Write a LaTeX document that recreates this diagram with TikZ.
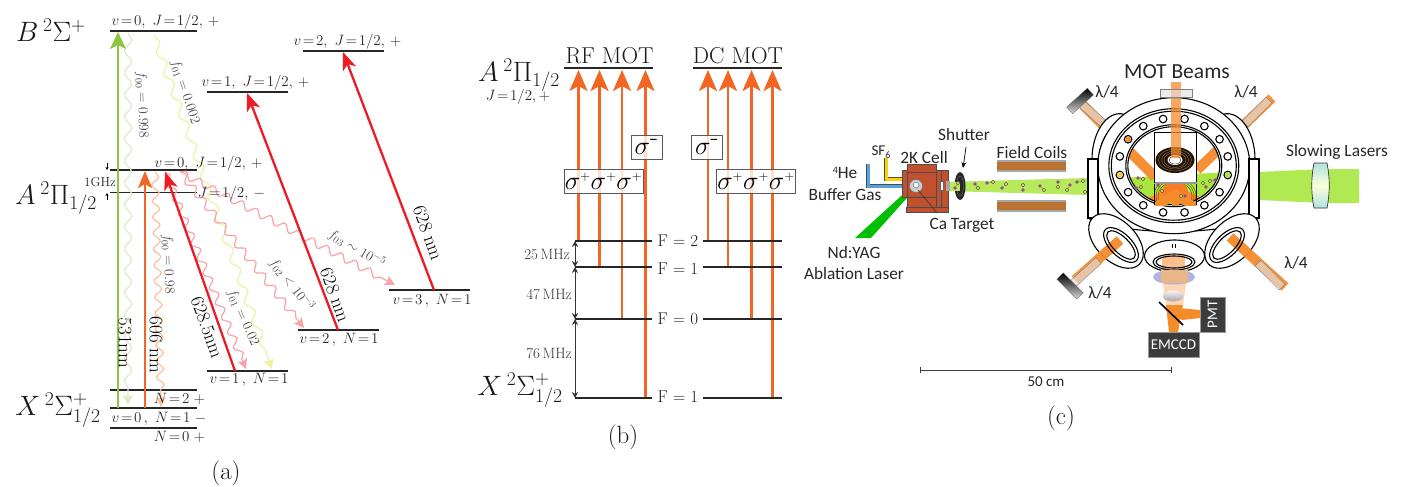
\documentclass[tikz,border=0pt]{standalone}
\usepackage{fix-cm}
\usepackage{fontspec}
\newfontfamily\calibri{Carlito}
\usetikzlibrary{arrows.meta,decorations.pathmorphing,shapes.geometric}
\definecolor{lasergreen}{HTML}{8DC63F}
\definecolor{laserorange}{HTML}{F26522}
\definecolor{laserred}{HTML}{ED1C24}
\definecolor{wavegreen}{HTML}{DDEBC8}
\definecolor{waveyellow}{HTML}{EDF1A0}
\definecolor{waveorange}{HTML}{FBBF9F}
\definecolor{wavepink}{HTML}{F9A2A7}
\definecolor{beam}{HTML}{F68B2C}
\definecolor{slower}{HTML}{A9E63F}
\definecolor{cellred}{HTML}{C1502E}
\definecolor{coilbrown}{HTML}{B87333}
\definecolor{boxdark}{HTML}{3C3C3C}
\tikzset{
  lvl/.style={line width=1.9pt,black!85},
  state/.style={font=\fontsize{15}{17}\selectfont,text=black!85,inner sep=0pt},
  term/.style={font=\fontsize{28}{30}\selectfont,text=black!90,inner sep=0pt},
  freq/.style={font=\fontsize{14}{16}\selectfont,text=black!70,inner sep=0pt},
  wavelen/.style={font=\fontsize{19}{21}\selectfont,text=black,inner sep=0pt},
  panel/.style={font=\fontsize{25}{27}\selectfont,text=black!90,inner sep=0pt},
  pump/.style={line width=2.3pt},
  redhead/.style={-{Stealth[length=18pt,width=14pt,inset=5pt]}},
  wavy/.style={line width=1.2pt,decorate,decoration={snake,segment length=#1,amplitude=3.6pt,post length=10pt}},
  wavetip/.style={-{Stealth[length=10pt,width=10pt,inset=2pt]}},
  mothead/.style={-{Stealth[length=21pt,width=18pt,inset=5pt]}},
  polbox/.style={draw=black!65,line width=.7pt,fill=white,fill opacity=.8,text opacity=1,inner sep=0pt,font=\fontsize{26}{28}\selectfont},
  gap/.style={{Stealth[length=6pt,width=6pt]}-{Stealth[length=6pt,width=6pt]},line width=.9pt,black!80},
  fstate/.style={font=\fontsize{17}{19}\selectfont,text=black!90,inner sep=0pt},
  mhz/.style={font=\fontsize{15}{17}\selectfont,text=black!80,inner sep=0pt},
  lab/.style={font=\calibri\fontsize{17.3}{19}\selectfont,text=black!85,inner sep=0pt},
  darkbox/.style={fill=boxdark,draw=black!40,line width=.4pt,text=white,inner sep=0pt,font=\calibri\fontsize{15}{17}\selectfont},
  qwp/.style={draw=black!50,fill=black!12,fill opacity=.65,minimum width=34pt,minimum height=8pt,inner sep=0pt},
  mirr/.style={top color=black,bottom color=black!15,draw=black!60,line width=.3pt,minimum width=28pt,minimum height=9pt,inner sep=0pt},
  motbeam/.style={draw=beam,line width=10pt,draw opacity=.95},
  chamber/.style={line width=1.1pt,fill=white},
  pinkdot/.style={fill=magenta!70!black,draw=black!50,line width=.3pt},
  yellowdot/.style={fill=yellow!70,draw=black!70,line width=.5pt},
}
\begin{document}
\begin{tikzpicture}[x=1pt,y=-1pt]
  \useasboundingbox (0,0) rectangle (1405,487);
  \draw
    (110,31) coordinate (b0l) (197,31) coordinate (b0r)
    (207,92) coordinate (b1l) (288,92) coordinate (b1r)
    (303,51) coordinate (b2l) (384,51) coordinate (b2r)
    (110,170) coordinate (apl) (197,170) coordinate (apr)
    (110,192.5) coordinate (aml) (197,192.5) coordinate (amr)
    (110,390) coordinate (x2l) (197,390) coordinate (x2r)
    (110,408) coordinate (x1l) (197,408) coordinate (x1r)
    (110,428) coordinate (x0l) (197,428) coordinate (x0r)
    (207,371) coordinate (v1l) (288,371) coordinate (v1r)
    (298,330) coordinate (v2l) (379,330) coordinate (v2r)
    (389,290) coordinate (v3l) (470,290) coordinate (v3r);
  \draw[lvl] (b0l) to (b0r);
  \draw[lvl] (b1l) to (b1r);
  \draw[lvl] (b2l) to (b2r);
  \draw[lvl] (apl) to (apr);
  \draw[lvl] (aml) to (amr);
  \draw[lvl] (x2l) to (x2r);
  \draw[lvl] (x1l) to (x1r);
  \draw[lvl] (x0l) to (x0r);
  \draw[lvl] (v1l) to (v1r);
  \draw[lvl] (v2l) to (v2r);
  \draw[lvl] (v3l) to (v3r);
  \draw
    (118,408) coordinate (gr0) (118,32) coordinate (gr1)
    (145,408) coordinate (or0) (145,171) coordinate (or1)
    (235,371) coordinate (rd0) (165,172) coordinate (rd1)
    (338,330) coordinate (re0) (247,93) coordinate (re1)
    (434,290) coordinate (rf0) (343,52) coordinate (rf1)
    (128,33) coordinate (wa0) (128,405) coordinate (wa1)
    (154,36) coordinate (wb0) (272,369) coordinate (wb1)
    (155,172) coordinate (wc0) (161,407) coordinate (wc1)
    (165,172) coordinate (wd0) (246,369) coordinate (wd1)
    (180,172) coordinate (we0) (304,328) coordinate (we1)
    (180,172) coordinate (wf0) (395,285) coordinate (wf1)
    (107,163) coordinate (gh0) (107,170) coordinate (gh1)
    (107,200) coordinate (gh2) (107,193) coordinate (gh3);
  \draw[wavy=22pt,wavegreen,wavetip] (wa0) to (wa1);
  \draw[wavy=22pt,waveyellow,wavetip] (wb0) to (wb1);
  \draw[wavy=16pt,waveorange,wavetip] (wc0) to (wc1);
  \draw[wavy=16pt,wavepink,wavetip] (wd0) to (wd1);
  \draw[wavy=16pt,wavepink,wavetip] (we0) to (we1);
  \draw[wavy=16pt,wavepink,wavetip] (wf0) to (wf1);
  \begin{scope}[pump]
    \draw[lasergreen,-{Stealth[length=17pt,width=16pt,inset=4pt]}] (gr0) to (gr1);
    \draw[laserorange,-{Stealth[length=17pt,width=14pt,inset=4pt]}] (or0) to (or1);
    \draw[laserred,redhead] (rd0) to (rd1);
    \draw[laserred,redhead] (re0) to (re1);
    \draw[laserred,redhead] (rf0) to (rf1);
  \end{scope}
  \draw[-{Stealth[length=3pt,width=3pt]},line width=.5pt] (gh0) to (gh1);
  \draw[-{Stealth[length=3pt,width=3pt]},line width=.5pt] (gh2) to (gh3);
  \node[term] (bterm) at (51,30) {$B\,{}^2\Sigma^+$};
  \node[term] (aterm) at (56,198) {$A\,{}^2\Pi_{1/2}$};
  \node[term] (xterm) at (58,410) {$X\,{}^2\Sigma^+_{1/2}$};
  \node[state] (b0lab) at (165.5,22) {$v\!=\!0,\ J\!=\!1/2,\,+$};
  \node[state] (b1lab) at (255.5,83) {$v\!=\!1,\ J\!=\!1/2,\,+$};
  \node[state] (b2lab) at (347.5,42) {$v\!=\!2,\ J\!=\!1/2,\,+$};
  \node[state] (aplab) at (208.5,164) {$v\!=\!0,\ J\!=\!1/2,\,+$};
  \node[state] (amlab) at (231.5,194) {$J\!=\!1/2,\,-$};
  \node[state,font=\fontsize{13}{15}\selectfont] (ghz) at (100,182) {1GHz};
  \node[state] (x2lab) at (179.5,399) {$N\!=\!2\;+$};
  \node[state] (x1lab) at (159,419) {$v\!=\!0\,,\ N\!=\!1\;-$};
  \node[state] (x0lab) at (179.5,437) {$N\!=\!0\;+$};
  \node[state] (v1lab) at (249,380) {$v\!=\!1\,,\ N\!=\!1$};
  \node[state] (v2lab) at (339,340) {$v\!=\!2\,,\ N\!=\!1$};
  \node[state] (v3lab) at (432,301) {$v\!=\!3\,,\ N\!=\!1$};
  \node[wavelen,rotate=-90] (nm531) at (125,343) {531nm};
  \node[wavelen,rotate=-90] (nm606) at (156,345) {606 nm};
  \node[wavelen,rotate=-70] (nm6285) at (207,327) {628.5nm};
  \node[wavelen,rotate=-70] (nm628a) at (335,295) {628 nm};
  \node[wavelen,rotate=-70] (nm628b) at (428,233) {628 nm};
  \node[freq,rotate=-88] (f00b) at (142,105) {$f_{00}=0.998$};
  \node[freq,rotate=-72] (f01b) at (185,92) {$f_{01}=0.002$};
  \node[freq,rotate=-88] (f00a) at (168,264) {$f_{00}=0.98$};
  \node[freq,rotate=-66] (f01a) at (243,318) {$f_{01}=0.02$};
  \node[freq,rotate=-52] (f02a) at (292,285) {$f_{02}<10^{-3}$};
  \node[freq,rotate=-31] (f03a) at (357,249) {$f_{03}\sim 10^{-5}$};
  \node[panel] (pana) at (226,473) {(a)};
  \draw
    (564,68) coordinate (rfl) (653,68) coordinate (rfr)
    (693,68) coordinate (dcl) (782,68) coordinate (dcr)
    (575,241) coordinate (f2l) (652,241) coordinate (f2r)
    (575,267) coordinate (f1l) (652,267) coordinate (f1r)
    (575,319) coordinate (f0l) (652,319) coordinate (f0r)
    (575,398) coordinate (g1l) (652,398) coordinate (g1r)
    (703,241) coordinate (h2l) (782,241) coordinate (h2r)
    (703,267) coordinate (h1l) (782,267) coordinate (h1r)
    (703,319) coordinate (h0l) (782,319) coordinate (h0r)
    (703,398) coordinate (k1l) (782,398) coordinate (k1r)
    (578.5,241) coordinate (m1a) (578.5,70) coordinate (m1b)
    (599.5,267) coordinate (m2a) (599.5,70) coordinate (m2b)
    (622,319) coordinate (m3a) (622,70) coordinate (m3b)
    (645.5,398) coordinate (m4a) (645.5,70) coordinate (m4b)
    (708,241) coordinate (m5a) (708,70) coordinate (m5b)
    (728,267) coordinate (m6a) (728,70) coordinate (m6b)
    (751.5,319) coordinate (m7a) (751.5,70) coordinate (m7b)
    (772.5,398) coordinate (m8a) (772.5,70) coordinate (m8b);
  \begin{scope}[laserorange,pump,mothead]
    \draw (m1a) to (m1b);
    \draw (m2a) to (m2b);
    \draw (m3a) to (m3b);
    \draw (m4a) to (m4b);
    \draw (m5a) to (m5b);
    \draw (m6a) to (m6b);
    \draw (m7a) to (m7b);
    \draw (m8a) to (m8b);
  \end{scope}
  \draw[lvl] (rfl) to (rfr);
  \draw[lvl] (dcl) to (dcr);
  \draw[lvl] (f2l) to (f2r);
  \draw[lvl] (f1l) to (f1r);
  \draw[lvl] (f0l) to (f0r);
  \draw[lvl] (g1l) to (g1r);
  \draw[lvl] (h2l) to (h2r);
  \draw[lvl] (h1l) to (h1r);
  \draw[lvl] (h0l) to (h0r);
  \draw[lvl] (k1l) to (k1r);
  \draw[gap] (f2l) to (f1l);
  \draw[gap] (f1l) to (f0l);
  \draw[gap] (f0l) to (g1l);
  \node[polbox,minimum width=31pt,minimum height=24pt] (sigl) at (646.5,147) {$\sigma^{\mbox{-}}$};
  \node[polbox,minimum width=31pt,minimum height=24pt] (sigr) at (707,147) {$\sigma^{\mbox{-}}$};
  \node[polbox,minimum width=79pt,minimum height=24pt] (sigpl) at (603.5,181) {$\sigma^{\scriptscriptstyle+}\sigma^{\scriptscriptstyle+}\sigma^{\scriptscriptstyle+}$};
  \node[polbox,minimum width=79pt,minimum height=24pt] (sigpr) at (756,181) {$\sigma^{\scriptscriptstyle+}\sigma^{\scriptscriptstyle+}\sigma^{\scriptscriptstyle+}$};
  \node[font=\fontsize{23}{25}\selectfont,text=black!90,inner sep=0pt] (rfmot) at (609.5,56) {RF MOT};
  \node[font=\fontsize{23}{25}\selectfont,text=black!90,inner sep=0pt] (dcmot) at (738,56) {DC MOT};
  \node[term] (a2term) at (519,75) {$A\,{}^2\Pi_{1/2}$};
  \node[state] (a2sub) at (518,97) {$J\!=\!1/2,+$};
  \node[term] (x2term) at (520,390) {$X\,{}^2\Sigma^+_{1/2}$};
  \node[fstate] (f2lab) at (678,241) {F = 2};
  \node[fstate] (f1lab) at (678,269) {F = 1};
  \node[fstate] (f0lab) at (678,319) {F = 0};
  \node[fstate] (g1lab) at (678,397) {F = 1};
  \node[mhz] (mhz25) at (547,254) {25\,MHz};
  \node[mhz] (mhz47) at (549,294) {47\,MHz};
  \node[mhz] (mhz76) at (549,353) {76\,MHz};
  \node[panel] (panb) at (623,437) {(b)};
  \fill[slower!90!white] (1259,172) -- (1322,169) -- (1359,169) -- (1359,203) -- (1322,203) -- (1259,200) -- cycle;
  \path[top color=black!40!cyan!30,bottom color=black!40!cyan!30,middle color=green!10!yellow!15,draw=black!80,line width=.7pt]
    (1314,163) -- (1327,163) .. controls (1330,178) and (1330,193) .. (1327,208) -- (1314,208) .. controls (1311,193) and (1311,178) .. (1314,163) -- cycle;
  \fill[slower!85!white] (946,182) -- (1088,178) -- (1088,195) -- (946,191) -- cycle;
  \draw
    (1083,105) coordinate (bm1a) (1155,177) coordinate (bm1b)
    (1272,98) coordinate (bm2a) (1197,170) coordinate (bm2b)
    (1075,280) coordinate (bm3a) (1120,240) coordinate (bm3b)
    (1285,287) coordinate (bm4a) (1230,237) coordinate (bm4b);
  \draw[motbeam] (bm1a) to (bm1b);
  \draw[motbeam] (bm2a) to (bm2b);
  \node[qwp,rotate=-42] (wp1) at (1095,116) {};
  \node[qwp,rotate=45] (wp2) at (1257,112) {};
  \node[mirr,rotate=42] (mr1) at (1080,101) {};
  \draw[chamber]
    (1092,159) .. controls (1092,130) and (1110,106) .. (1128,116)
    -- (1144,113) .. controls (1150,98) and (1197,98) .. (1203,113)
    -- (1219,116) .. controls (1237,106) and (1255,130) .. (1255,159)
    -- (1259,218) .. controls (1225,236) and (1122,236) .. (1088,218) -- cycle;
  \draw[line width=1.1pt] (1100,150) .. controls (1104,132) and (1116,122) .. (1128,120);
  \draw[line width=1.1pt] (1247,150) .. controls (1243,132) and (1231,122) .. (1219,120);
  \draw[chamber] (1173.8,165.7) ellipse (76 and 68);
  \draw[chamber] (1173.8,165.7) ellipse (65 and 57);
  \draw[chamber] (1173.8,165.7) ellipse (62.5 and 54.5);
  \draw[chamber] (1088,159) rectangle (1098,218);
  \draw[chamber] (1249,159) rectangle (1259,218);
  \draw[chamber] (1173.8,165.7) ellipse (48 and 41);
  \begin{scope}
    \clip (1173.8,165.7) ellipse (46 and 39);
    \fill[slower] (1120,178) -- (1230,172) -- (1230,204) -- (1120,204) -- cycle;
    \draw[motbeam] (bm1a) to (bm1b);
    \draw[motbeam] (bm2a) to (bm2b);
    \draw[draw=beam,line width=9pt] (1130,212) -- (1175,190) -- (1220,212);
    \draw[draw=beam,line width=7pt] (1175,190) -- (1175,210);
  \end{scope}
  \draw[line width=1.1pt] (1173.8,165.7) ellipse (46 and 39);
  \draw[line width=1.1pt,fill=white]
    (1173.8,165.7)+(11.25:55 and 47.6) circle (3.8)
    (1173.8,165.7)+(33.75:55 and 47.6) circle (3.8)
    (1173.8,165.7)+(56.25:55 and 47.6) circle (3.8)
    (1173.8,165.7)+(78.75:55 and 47.6) circle (3.8)
    (1173.8,165.7)+(101.25:55 and 47.6) circle (3.8)
    (1173.8,165.7)+(123.75:55 and 47.6) circle (3.8)
    (1173.8,165.7)+(146.25:55 and 47.6) circle (3.8)
    (1173.8,165.7)+(168.75:55 and 47.6) circle (3.8)
    (1173.8,165.7)+(191.25:55 and 47.6) circle (3.8)
    (1173.8,165.7)+(213.75:55 and 47.6) circle (3.8)
    (1173.8,165.7)+(236.25:55 and 47.6) circle (3.8)
    (1173.8,165.7)+(258.75:55 and 47.6) circle (3.8)
    (1173.8,165.7)+(281.25:55 and 47.6) circle (3.8)
    (1173.8,165.7)+(303.75:55 and 47.6) circle (3.8)
    (1173.8,165.7)+(326.25:55 and 47.6) circle (3.8)
    (1173.8,165.7)+(348.75:55 and 47.6) circle (3.8);
  \fill[beam!50!yellow!90] (1173.8,165.7)+(168.75:55 and 47.6) circle (2.8);
  \fill[beam] (1173.8,165.7)+(213.75:55 and 47.6) circle (2.8);
  \fill[slower] (1173.8,165.7)+(11.25:55 and 47.6) circle (2.8);
  \draw[line width=.7pt,fill=white] (1154.5,132) rectangle (1196.5,182);
  \fill[black!85!orange] (1175,160) ellipse (19.5 and 13);
  \draw[white!60!black,line width=.25pt] (1175,160) ellipse (16.5 and 11);
  \draw[white!60!black,line width=.25pt] (1175,160) ellipse (13.5 and 9);
  \draw[white!60!black,line width=.25pt] (1175,160) ellipse (11 and 7.5);
  \fill[white] (1175,160) ellipse (7.5 and 5);
  \draw[black,line width=.3pt] (1175,160) ellipse (6 and 4);
  \draw[draw=beam,line width=10pt,draw opacity=.75] (1176,82) -- (1176,158);
  \node[qwp,minimum width=32pt] (wp0) at (1176,93) {};
  \fill[black!40] (1154.5,182) rectangle (1196.5,184);
  \begin{scope}
    \clip (1154.5,184) rectangle (1196.5,205);
    \draw[black!70!orange,line width=.3pt] (1175,196) ellipse (21 and 18);
    \draw[black!70!orange,line width=.3pt] (1175,196) ellipse (19 and 16);
    \draw[black!70!orange,line width=.3pt] (1175,196) ellipse (17 and 14);
    \fill[beam!90!red] (1175,192) ellipse (13 and 11);
    \draw[draw=beam,line width=9pt] (1154,208) -- (1175,194) -- (1196,208);
    \draw[draw=beam,line width=7pt] (1175,194) -- (1175,206);
  \end{scope}
  \draw[line width=.7pt] (1154.5,184) -- (1154.5,205);
  \draw[line width=.7pt] (1196.5,184) -- (1196.5,205);
  \draw[chamber,shift={(1116,241)},rotate=-45] (0,0) ellipse (33 and 20);
  \draw[chamber,shift={(1232,241)},rotate=45] (0,0) ellipse (33 and 20);
  \draw[motbeam] (bm3b) to (bm3a);
  \draw[motbeam] (bm4b) to (bm4a);
  \draw[line width=1.1pt,shift={(1121,245)},rotate=-45] (0,0) ellipse (22 and 11);
  \draw[line width=1.1pt,shift={(1121,245)},rotate=-45] (0,0) ellipse (18.5 and 8);
  \draw[line width=1.1pt,shift={(1227,245)},rotate=45] (0,0) ellipse (22 and 11);
  \draw[line width=1.1pt,shift={(1227,245)},rotate=45] (0,0) ellipse (18.5 and 8);
  \node[qwp,rotate=42] (wp3) at (1086,272) {};
  \node[qwp,rotate=-45] (wp4) at (1270,275) {};
  \node[mirr,rotate=135] (mr2) at (1070,286) {};
  \draw[chamber] (1174.5,256) ellipse (30 and 16);
  \fill[beam!55!white] (1162,255) rectangle (1185,270);
  \fill[beam!35!white] (1161,270) -- (1188,270) -- (1183,305) -- (1166,305) -- cycle;
  \draw[line width=1.1pt] (1174,262) ellipse (21 and 8);
  \draw[line width=1.1pt] (1174,262) ellipse (18 and 6);
  \draw[line width=.7pt] (1172.5,248) -- (1172.5,244) (1175.5,248) -- (1175.5,244);
  \fill[black!40!blue!30!white] (1174,277) ellipse (21 and 7.5);
  \fill[brown!50!beam!60!white] (1161,270) rectangle (1188,283);
  \path[top color=black!5,bottom color=black!35] (1173,296) ellipse (10.5 and 5.5);
  \fill[beam] (1166,305) -- (1183,305) -- (1178,332) -- (1169,332) -- cycle;
  \fill[beam] (1168,307) -- (1200,310) -- (1200,318) -- (1182,320) -- cycle;
  \draw
    (1159,302) coordinate (pm0) (1183,325) coordinate (pm1)
    (920,370) coordinate (sc0) (1171.5,370) coordinate (sc1)
    (966,147) coordinate (sh0) (963,168) coordinate (sh1)
    (918,190) coordinate (ca0) (937,213) coordinate (ca1);
  \draw[line width=1.6pt] (pm0) to (pm1);
  \node[darkbox,rotate=90,minimum width=35pt,minimum height=25pt] (pmt) at (1212.5,314.5) {PMT};
  \node[darkbox,minimum width=51pt,minimum height=25pt] (emccd) at (1173.5,344.5) {EMCCD};
  \draw[line width=.9pt,black!75,|-|] (sc0) to (sc1);
  \node[lab,font=\calibri\fontsize{15}{17}\selectfont] (scale) at (1046,382) {50 cm};
  \draw[draw=black!70,line width=4.2pt] (868,164) -- (868,186) -- (907,186);
  \draw[draw=cyan!70!blue!70,line width=3pt] (868,164) -- (868,186) -- (907,186);
  \draw[draw=black!70,line width=4.2pt] (886,158) -- (886,179) -- (907,179);
  \draw[draw=yellow!70!orange,line width=3pt] (886,158) -- (886,179) -- (907,179);
  \fill[green!75!black] (855,238) -- (871,238) -- (914,190) -- (911,187) -- cycle;
  \path[fill=cellred,draw=black!70,line width=.5pt] (902,170) rectangle (907,197);
  \path[fill=cellred,draw=black!70,line width=.5pt] (936,170) rectangle (948,207);
  \path[fill=cellred,draw=black!70,line width=.5pt] (906,207) rectangle (948,212);
  \path[fill=cellred,draw=black!70,line width=.5pt] (907,164) rectangle (936,207);
  \draw[black!70,line width=.4pt] (907,172) -- (936,172) (907,197) -- (936,197) (941,170) -- (941,207);
  \draw[fill=white,draw=black!60,line width=.4pt] (940,181) rectangle (943,190);
  \draw[fill=cyan!20!black!25,draw=black!60,line width=.4pt] (916,186) circle (6.5);
  \draw[fill=white,draw=black!60,line width=.4pt] (916,185) circle (2.8);
  \fill[black!85] (960,186) ellipse (5.5 and 14);
  \draw[black!50,line width=.3pt] (960,186) ellipse (3.5 and 10);
  \fill[black!35] (946,181) rectangle (950,191);
  \fill[slower!85!white] (950,182) rectangle (960,191);
  \draw[line width=.7pt,-{Stealth[length=6pt,width=5pt]}] (sh0) to (sh1);
  \draw[line width=.6pt,black!80] (ca0) to (ca1);
  \fill[coilbrown] (997,162) rectangle (1066,170);
  \fill[coilbrown] (997,202) rectangle (1066,210);
  \draw[black!35,line width=1.2pt] (997,161) -- (1066,161) (997,171) -- (1066,171) (997,201) -- (1066,201) (997,211) -- (1066,211);
  \path[black!50,line width=.3pt,draw]
    (955,188) -- (958,183) (975,184) -- (978,188) (987,183) -- (993,182)
    (1002,188) -- (1006,184) (1023,190) -- (1023,185) (1040,186) -- (1044,190)
    (1058,182) -- (1058,187) (1070,185) -- (1067,190) (1077,182) -- (1083,181)
    (1138,178) -- (1143,179) (1136,188) -- (1141,187) (1206,187) -- (1203,183)
    (1215,180) -- (1210,181) (1158,185) -- (1162,191) (1185,196) -- (1181,196);
  \path[pinkdot]
    (955,188) circle (1.7) (975,184) circle (1.7) (987,183) circle (1.7) (1002,188) circle (1.7)
    (1023,190) circle (1.7) (1040,186) circle (1.7) (1058,182) circle (1.7) (1070,185) circle (1.7)
    (1077,182) circle (1.7) (1138,178) circle (1.7) (1136,188) circle (1.7) (1206,187) circle (1.7)
    (1215,180) circle (1.7) (1158,185) circle (1.7) (1185,196) circle (1.7);
  \path[yellowdot]
    (958,183) circle (1.7) (978,188) circle (1.7) (993,182) circle (1.7) (1006,184) circle (1.7)
    (1023,185) circle (1.7) (1044,190) circle (1.7) (1058,187) circle (1.7) (1067,190) circle (1.7)
    (1083,181) circle (1.7) (1085,192) circle (1.7) (1143,179) circle (1.7) (1141,187) circle (1.7)
    (1203,183) circle (1.7) (1210,181) circle (1.7) (1162,191) circle (1.7) (1181,196) circle (1.7);
  \node[lab] (shutter) at (964,135) {Shutter};
  \node[lab] (cell2k) at (924,158) {2K Cell};
  \node[lab,font=\calibri\fontsize{15}{17}\selectfont] (sf6) at (881,152) {SF\raisebox{-3pt}{\fontsize{10}{12}\selectfont 6}};
  \node[lab] (he4) at (845,173) {\raisebox{5pt}{\fontsize{10}{12}\selectfont 4}He};
  \node[lab] (buffer) at (845,195) {Buffer Gas};
  \node[lab] (coils) at (1032,153) {Field Coils};
  \node[lab] (catarget) at (962,225) {Ca Target};
  \node[lab] (ndyag) at (854,253) {Nd:YAG};
  \node[lab] (ablation) at (854,274) {Ablation Laser};
  \node[lab,font=\calibri\fontsize{21.5}{24}\selectfont] (motbeams) at (1177,72) {MOT Beams};
  \node[lab] (slowing) at (1337,152) {Slowing Lasers};
  \node[lab] (lam1) at (1107,92) {λ/4};
  \node[lab] (lam2) at (1246,92) {λ/4};
  \node[lab] (lam3) at (1100,293) {λ/4};
  \node[lab] (lam4) at (1296,263) {λ/4};
  \node[panel] (panc) at (1061,418) {(c)};
\end{tikzpicture}
\end{document}
